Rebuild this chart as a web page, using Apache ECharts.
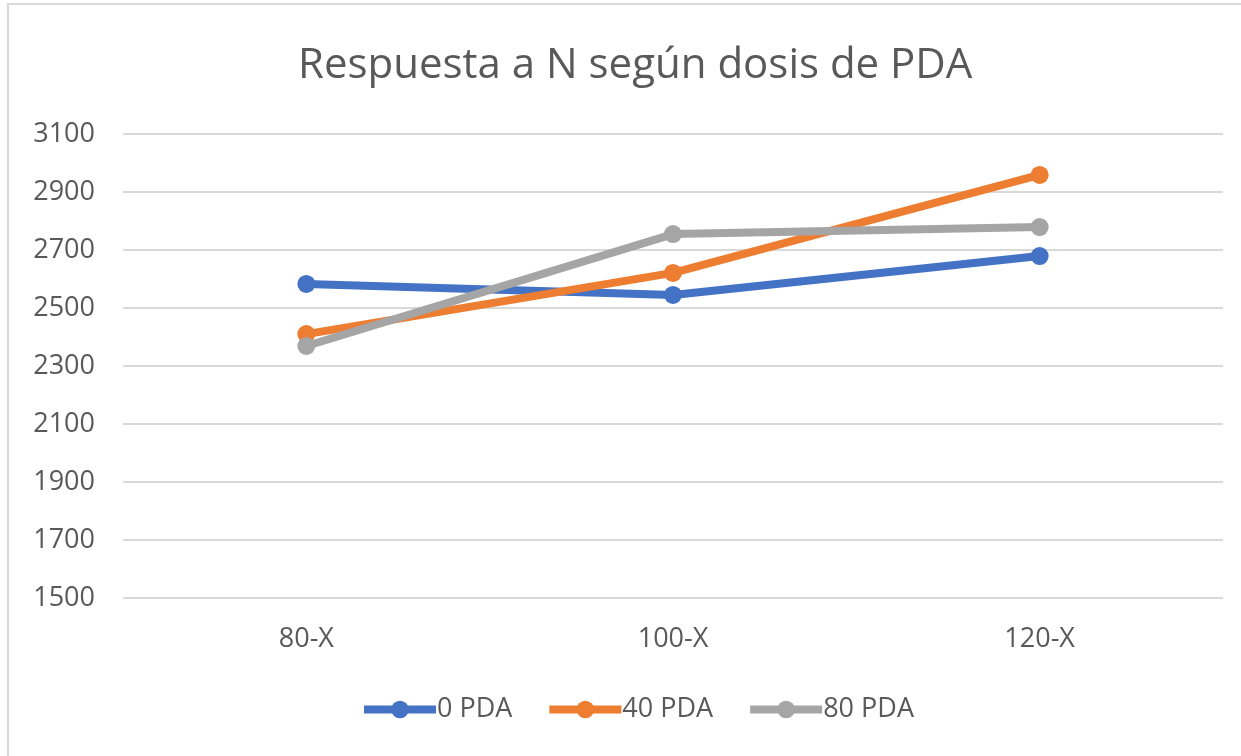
<!DOCTYPE html>
<html><head><meta charset="utf-8">
<script src="https://cdn.jsdelivr.net/npm/echarts@6/dist/echarts.min.js"></script>
<style>html,body{margin:0;padding:0;background:#fff}#c{width:1241px;height:756px}</style>
</head><body><div id="c"></div>
<script>
var categories = ['80-X', '100-X', '120-X'];
var pda0 = [2583, 2545, 2679];
var pda40 = [2410, 2621, 2959];
var pda80 = [2369, 2755, 2779];
var yTicks = [1500, 3100, 200];

var chart = echarts.init(document.getElementById('c'));
var font = '"Open Sans", "Noto Sans", sans-serif';
function s(name, data, color) {
  return {
    name: name, type: 'line', data: data, symbol: 'circle', symbolSize: 18,
    lineStyle: { color: color, width: 8 }, itemStyle: { color: color },
    emphasis: { disabled: true }
  };
}
chart.setOption({
  animation: false,
  backgroundColor: '#fff',
  graphic: [{ type: 'rect', shape: { x: 8, y: 4, width: 1240, height: 760 },
    style: { fill: 'none', stroke: '#d9d9d9', lineWidth: 2 }, silent: true }],
  title: { text: 'Respuesta a N según dosis de PDA', left: 298, top: 45, padding: 0,
    textStyle: { fontFamily: font, fontSize: 42, fontWeight: 'normal', color: '#595959' } },
  legend: { bottom: 33, left: 360, padding: 0, itemWidth: 72, itemHeight: 22, itemGap: 33,
    lineStyle: { width: 8 },
    textStyle: { fontFamily: font, fontSize: 27, color: '#595959', padding: [0, 0, 0, -4] },
    data: ['0 PDA', '40 PDA', '80 PDA'] },
  grid: { left: 123, right: 18, top: 134, bottom: 158 },
  xAxis: { type: 'category', data: categories, boundaryGap: true,
    axisLine: { show: false }, axisTick: { show: false },
    axisLabel: { fontFamily: font, fontSize: 27, color: '#595959', margin: 28 } },
  yAxis: { type: 'value', min: yTicks[0], max: yTicks[1], interval: yTicks[2],
    axisLine: { show: false }, axisTick: { show: false },
    axisLabel: { fontFamily: font, fontSize: 27, color: '#595959', margin: 28,
      formatter: function (v) { return String(v); } },
    splitLine: { lineStyle: { color: '#d9d9d9', width: 2 } } },
  series: [s('0 PDA', pda0, '#4472C4'), s('40 PDA', pda40, '#ED7D31'), s('80 PDA', pda80, '#A5A5A5')]
});
</script></body></html>
